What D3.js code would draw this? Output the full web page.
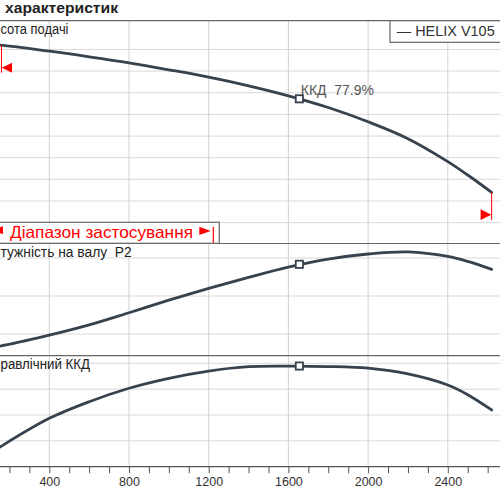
<!DOCTYPE html>
<html><head><meta charset="utf-8">
<script src="https://cdn.jsdelivr.net/npm/d3@7"></script>
<style>html,body{margin:0;padding:0;background:#fff;overflow:hidden} text{white-space:pre}</style>
</head><body>
<svg id="c" width="500" height="500"></svg>
<script>
// ---- data ----
const flow   = [0,150,400,600,800,1000,1200,1400,1600,1800,2000,2200,2400,2500,2620];
const head   = [46.4,46.0,44.6,43.3,41.9,40.3,38.6,36.6,34.3,31.6,28.3,24.4,19.1,16.0,12.0];
const power  = [0.257,0.268,0.297,0.324,0.356,0.389,0.420,0.449,0.476,0.497,0.5105,0.516,0.504,0.491,0.470];
const effic  = [0,15.0,37.4,50.3,60.7,68.4,74.0,77.4,77.85,77.5,76.2,71.8,63.2,55.7,43.9];
const bep    = {q:1655, h:33.6, p:0.4834, e:77.9};
const rangeQ = [160, 2620];
const xTickLabels = [400,800,1200,1600,2000,2400];
const headGrid  = [5,10,15,20,25,30,35,40,45];
const powerGrid = [0.3,0.4,0.5];
const effGrid   = [20,40,60,80];
const texts = {
  title: "характеристик",
  head: "сота подачі",
  power: "тужність на валу  P2",
  eff: "равлічний ККД",
  legend: "— HELIX V105",
  bep: "ККД  77.9%",
  range: "Діапазон застосування"
};

// ---- layout ----
const svg = d3.select("#c");
const W = 500;
const topY = 20.7, midY = 243.5, botY = 355.7, axisY = 466.7;
const FONT = "'Liberation Sans', Arial, sans-serif";
const curveCol = "#37424f", gridCol = "#d9d9d9", frameCol = "#666";

const x  = d3.scaleLinear().domain([0,2400]).range([-30.4, 447.8]);
const yH = d3.scaleLinear().domain([0,45]).range([244.3, 49.45]);
const yP = d3.scaleLinear().domain([0.3,0.5]).range([334, 258]);
const yE = d3.scaleLinear().domain([0,80]).range([axisY, 363.3]);

// horizontal grids
const g = svg.append("g");
const hGrid = (data, yf) => g.append("g").selectAll("line").data(data).join("line")
  .attr("x1",0).attr("x2",W).attr("y1",d=>yf(d)).attr("y2",d=>yf(d))
  .attr("stroke",gridCol).attr("stroke-width",1);
hGrid(headGrid, yH); hGrid(powerGrid, yP); hGrid(effGrid, yE);
// vertical grids
g.append("g").selectAll("line").data(xTickLabels).join("line")
  .attr("x1",d=>x(d)).attr("x2",d=>x(d)).attr("y1",topY).attr("y2",axisY)
  .attr("stroke","#d2d2d2").attr("stroke-width",1);

// frame lines
[topY, midY, botY].forEach(yy=>{
  svg.append("line").attr("x1",0).attr("x2",W).attr("y1",yy).attr("y2",yy)
    .attr("stroke",frameCol).attr("stroke-width",1.2);
});

// x axis
const xAxis = d3.axisBottom(x).tickValues(d3.range(0,2700,100)).tickSize(6.5)
  .tickFormat(d=> xTickLabels.includes(d) ? d : "");
const ax = svg.append("g").attr("transform",`translate(0,${axisY})`).call(xAxis);
ax.select(".domain").attr("stroke","#555").attr("stroke-width",1.2).attr("d",`M0,0H${W}`);
ax.selectAll(".tick line").attr("stroke","#555");
ax.selectAll(".tick text").attr("font-family",FONT).attr("font-size",12.5).attr("fill","#333").attr("dy","0.75em").attr("y",9.5);

// curves
const pts = flow.map((q,i)=>({q, h:head[i], p:power[i], e:effic[i]}));
const mk = (yf,key)=> d3.line().x(d=>x(d.q)).y(d=>yf(d[key])).curve(d3.curveCatmullRom.alpha(0.5));
[[yH,"h"],[yP,"p"],[yE,"e"]].forEach(([yf,k])=>{
  svg.append("path").datum(pts).attr("d",mk(yf,k)).attr("fill","none")
    .attr("stroke",curveCol).attr("stroke-width",2.8).attr("stroke-linecap","round");
});

// range markers on head curve
const red = "#ff0000";
function headAt(q){
  const i = d3.bisectLeft(flow,q);
  if (i<=0) return head[0];
  if (i>=flow.length) return head[head.length-1];
  const t=(q-flow[i-1])/(flow[i]-flow[i-1]);
  return head[i-1]+t*(head[i]-head[i-1]);
}
const lx = x(rangeQ[0]), rx = x(rangeQ[1]);
svg.append("line").attr("x1",lx).attr("x2",lx).attr("y1",yH(headAt(rangeQ[0]))).attr("y2",72.7)
  .attr("stroke",red).attr("stroke-width",1);
svg.append("path").attr("d",`M${lx+0.3},67.7L${lx+10.6},62.7L${lx+10.6},72.7Z`).attr("fill",red);
svg.append("line").attr("x1",rx).attr("x2",rx).attr("y1",yH(headAt(rangeQ[1]))).attr("y2",220)
  .attr("stroke",red).attr("stroke-width",1);
svg.append("path").attr("d",`M${rx-0.3},214.7L${rx-11},209.3L${rx-11},220Z`).attr("fill",red);

// BEP markers
[[yH,bep.h],[yP,bep.p],[yE,bep.e]].forEach(([yf,v])=>{
  svg.append("rect").attr("x",x(bep.q)-3.6).attr("y",yf(v)-3.6).attr("width",7.2).attr("height",7.2)
    .attr("fill","#fff").attr("stroke",curveCol).attr("stroke-width",1.8);
});
svg.append("text").attr("x",x(bep.q)+1.5).attr("y",94.5).text(texts.bep)
  .attr("font-family",FONT).attr("font-size",14).attr("fill","#555")
  .attr("textLength",73).attr("lengthAdjust","spacingAndGlyphs");

// range label box
svg.append("rect").attr("x",-5).attr("y",222.3).attr("width",224.3).attr("height",21)
  .attr("fill","#fff").attr("stroke",frameCol).attr("stroke-width",1.2);
svg.append("path").attr("d","M-8,230.2L3,226.2L3,234.2Z").attr("fill",red);
svg.append("text").attr("x",10).attr("y",237.6).text(texts.range)
  .attr("font-family",FONT).attr("font-size",16.5).attr("fill",red)
  .attr("textLength",183).attr("lengthAdjust","spacingAndGlyphs");
svg.append("path").attr("d","M199.3,226.7L210.7,230.9L199.3,235.1Z").attr("fill",red);
svg.append("line").attr("x1",213.3).attr("x2",213.3).attr("y1",226.7).attr("y2",242.7)
  .attr("stroke",red).attr("stroke-width",1.2);

// panel labels
const lab = (t,x1,x2,y)=> svg.append("text").attr("x",x1).attr("y",y).text(t)
  .attr("font-family",FONT).attr("font-size",14).attr("fill","#222")
  .attr("textLength",x2-x1).attr("lengthAdjust","spacingAndGlyphs");
lab(texts.head, 0.5, 68.5, 34);
lab(texts.power, 0.5, 131.7, 257.3);
lab(texts.eff, 0.5, 90, 368.8);

// title
svg.append("text").attr("x",5).attr("y",13).text(texts.title)
  .attr("font-family",FONT).attr("font-size",15.5).attr("font-weight","bold").attr("fill","#222")
  .attr("textLength",113).attr("lengthAdjust","spacingAndGlyphs");

// legend
svg.append("rect").attr("x",390).attr("y",topY).attr("width",120).attr("height",21.6)
  .attr("fill","#fff").attr("stroke",frameCol).attr("stroke-width",1.2);
svg.append("text").attr("x",396.7).attr("y",36.2).text(texts.legend)
  .attr("font-family",FONT).attr("font-size",15.5).attr("fill","#333")
  .attr("textLength",98).attr("lengthAdjust","spacingAndGlyphs");
</script>
</body></html>
